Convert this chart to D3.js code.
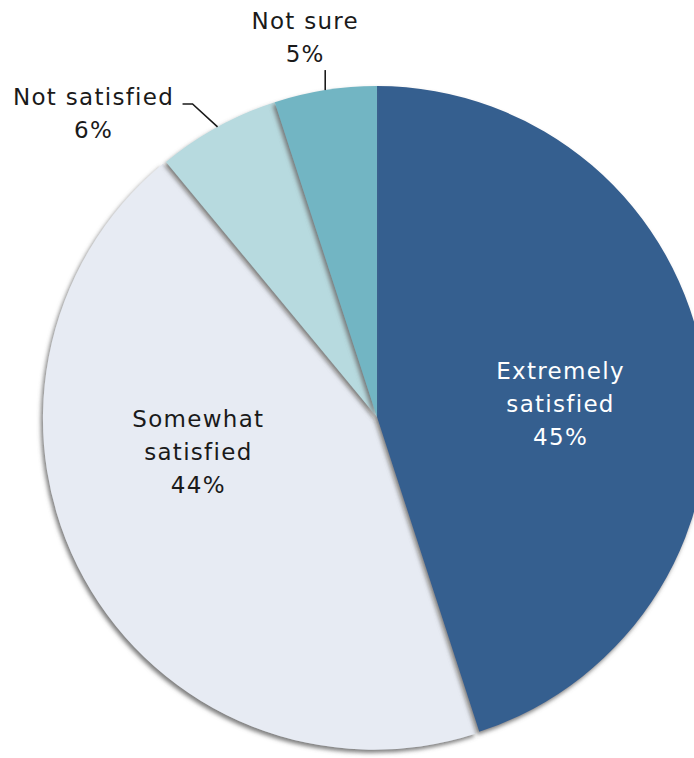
<!DOCTYPE html>
<html>
<head>
<meta charset="utf-8">
<script src="https://cdn.jsdelivr.net/npm/d3@7"></script>
<style>
  html, body { margin: 0; padding: 0; background: #fff; }
  svg { display: block; }
  text { font-family: "DejaVu Sans", Verdana, sans-serif; font-size: 23px; letter-spacing: 1.3px; }
</style>
</head>
<body>
<svg id="chart" width="694" height="758"></svg>
<script>
// Survey responses: satisfaction level, share of respondents (%)
const categories = ["Extremely satisfied", "Somewhat satisfied", "Not satisfied", "Not sure"];
const values = [45, 44, 6, 5];
const valueLabels = ["45%", "44%", "6%", "5%"];
const labelLines = [["Extremely", "satisfied"], ["Somewhat", "satisfied"], ["Not satisfied"], ["Not sure"]];
const colors = ["#365f8f", "#e7ebf3", "#b7dadf", "#72b5c3"];

const width = 694, height = 758;
const cx = 377, cy = 417, radius = 331;
const explodeIndex = 1, explodeDist = 3.5;

// label placement: inside labels in polar form, outside labels via leader lines
const labelLayout = [
  { inside: true, angleDeg: 86, r: 184, color: "#ffffff" },
  { inside: true, angleDeg: 259, r: 182, color: "#1a1a1a" },
  { inside: false, leader: [[-25, -23], [-35, -23]], text: [-89, 1], color: "#1a1a1a" },
  { inside: false, leader: [[0, -20]], text: [-20, -41], color: "#1a1a1a" }
];
const lineHeight = 33;

const svg = d3.select("#chart");
const defs = svg.append("defs");
const shadow = defs.append("filter").attr("id", "shadow")
  .attr("x", "-10%").attr("y", "-10%").attr("width", "120%").attr("height", "120%");
shadow.append("feDropShadow")
  .attr("dx", -2).attr("dy", 3).attr("stdDeviation", 2)
  .attr("flood-color", "#6e6e6e").attr("flood-opacity", 0.9);

const data = categories.map((c, i) => ({ name: c, value: values[i], i }));
const pie = d3.pie().sort(null).value(d => d.value).startAngle(0).endAngle(2 * Math.PI);
const arcs = pie(data);
const arc = d3.arc().innerRadius(0).outerRadius(radius);

const g = svg.append("g").attr("transform", `translate(${cx},${cy})`);

// draw the exploded slice first so neighbouring slices cast their shadow onto it
const order = [explodeIndex, ...arcs.map((_, i) => i).filter(i => i !== explodeIndex)];
g.selectAll("path.slice")
  .data(order.map(i => arcs[i]))
  .join("path")
  .attr("class", "slice")
  .attr("d", arc)
  .attr("fill", d => colors[d.index])
  .attr("filter", "url(#shadow)")
  .attr("transform", d => {
    if (d.index !== explodeIndex) return null;
    const mid = (d.startAngle + d.endAngle) / 2;
    return `translate(${explodeDist * Math.sin(mid)},${-explodeDist * Math.cos(mid)})`;
  });

// labels
arcs.forEach((d, i) => {
  const L = labelLayout[i];
  const lines = [...labelLines[i], valueLabels[i]];
  let tx, ty0;
  if (L.inside) {
    const a = L.angleDeg * Math.PI / 180;
    tx = L.r * Math.sin(a);
    const tyMid = -L.r * Math.cos(a);
    // vertically centre the block on the anchor point
    ty0 = tyMid - (lines.length - 1) * lineHeight / 2 + 8;
  } else {
    const mid = (d.startAngle + d.endAngle) / 2;
    const ex = radius * Math.sin(mid), ey = -radius * Math.cos(mid);
    const pts = [[ex, ey], ...L.leader.map(p => [ex + p[0], ey + p[1]])];
    g.append("path")
      .attr("d", d3.line()(pts))
      .attr("fill", "none")
      .attr("stroke", "#1a1a1a")
      .attr("stroke-width", 1.6);
    const end = pts[pts.length - 1];
    tx = end[0] + L.text[0];
    ty0 = end[1] + L.text[1];
  }
  const t = g.append("text")
    .attr("text-anchor", "middle")
    .attr("fill", L.color);
  lines.forEach((ln, k) => {
    t.append("tspan").attr("x", tx).attr("y", ty0 + k * lineHeight).text(ln);
  });
});
</script>
</body>
</html>
